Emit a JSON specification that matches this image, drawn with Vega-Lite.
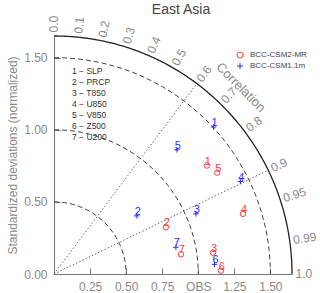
{
  "$schema": "https://vega.github.io/schema/vega-lite/v6.json",
  "width": 238,
  "height": 238,
  "autosize": "none",
  "padding": {"left": 54, "top": 36, "right": 28, "bottom": 19},
  "title": {"text": "East Asia", "fontSize": 14, "fontWeight": "normal", "color": "#444444", "font": "Liberation Sans", "offset": -1, "dx": 8},
  "config": {"view": {"stroke": null}, "font": "Liberation Sans"},
  "layer": [
    {
      "data": {"values": [
        {"kind": "outer", "r": 1.65}, {"kind": "std", "r": 0.5}, {"kind": "std", "r": 1.0}, {"kind": "std", "r": 1.5}
      ]},
      "mark": {"type": "point", "filled": false, "opacity": 1, "shape": "M0,-1A1,1,0,0,1,1,0"},
      "encoding": {
        "x": {"datum": 0, "type": "quantitative", "scale": {"domain": [0, 1.65], "nice": false, "zero": true},
          "axis": {"values": [0.25, 0.5, 0.75, 1, 1.25, 1.5], "labelExpr": "datum.value == 1 ? 'OBS' : format(datum.value, '.2f')", "title": null, "grid": false, "tickSize": -6, "labelPadding": 13, "labelFontSize": 12, "labelColor": "#8a8a8a", "domainColor": "#777777", "tickColor": "#777777", "labelFlush": false, "labelOverlap": false}},
        "y": {"datum": 0, "type": "quantitative", "scale": {"domain": [0, 1.65], "nice": false, "zero": true},
          "axis": {"values": [0, 0.25, 0.5, 0.75, 1, 1.25, 1.5], "format": ".2f", "title": "Standardized deviations (normalized)", "grid": false, "tickSize": -6, "labelPadding": 13, "labelFontSize": 12, "labelColor": "#8a8a8a", "domainColor": "#777777", "tickColor": "#777777", "labelFlush": false, "labelOverlap": false, "titleFontSize": 12, "titleFontWeight": "normal", "titleColor": "#8a8a8a", "titlePadding": 4}},
        "size": {"field": "r", "type": "quantitative", "legend": null, "scale": {"type": "pow", "exponent": 2, "domain": [0, 1.65], "range": [0, 226576], "zero": true}},
        "strokeDash": {"field": "kind", "type": "nominal", "legend": null, "scale": {"domain": ["outer", "std"], "range": [[1, 0], [5, 3]]}},
        "stroke": {"field": "kind", "type": "nominal", "legend": null, "scale": {"domain": ["outer", "std"], "range": ["#222222", "#444444"]}},
        "strokeWidth": {"field": "kind", "type": "nominal", "legend": null, "scale": {"domain": ["outer", "std"], "range": [1.3, 1]}}
      }
    },
    {
      "data": {"values": [{"corr": 0.6, "r": 1.65}]},
      "mark": {"type": "point", "filled": false, "opacity": 1, "shape": "M0,0L0.6,-0.8", "stroke": "#555555", "strokeWidth": 0.9, "strokeDash": [1.5, 2]},
      "encoding": {
        "x": {"datum": 0, "type": "quantitative"},
        "y": {"datum": 0, "type": "quantitative"},
        "size": {"field": "r", "type": "quantitative", "legend": null}
      }
    },
    {
      "data": {"values": [{"corr": 0.9, "r": 1.65}]},
      "mark": {"type": "point", "filled": false, "opacity": 1, "shape": "M0,0L0.9,-0.43589", "stroke": "#555555", "strokeWidth": 0.9, "strokeDash": [1.5, 2]},
      "encoding": {
        "x": {"datum": 0, "type": "quantitative"},
        "y": {"datum": 0, "type": "quantitative"},
        "size": {"field": "r", "type": "quantitative", "legend": null}
      }
    },
    {
      "data": {"values": [
        {"label": "0.0", "c": 0}, {"label": "0.1", "c": 0.1}, {"label": "0.2", "c": 0.2},
        {"label": "0.3", "c": 0.3}, {"label": "0.4", "c": 0.4}, {"label": "0.5", "c": 0.5},
        {"label": "0.6", "c": 0.6}, {"label": "0.7", "c": 0.7}, {"label": "0.8", "c": 0.8},
        {"label": "0.9", "c": 0.9}, {"label": "0.95", "c": 0.95}, {"label": "0.99", "c": 0.99},
        {"label": "1.0", "c": 1.0}
      ]},
      "mark": {"type": "text", "align": "left", "baseline": "middle", "fontSize": 12, "color": "#8a8a8a"},
      "encoding": {
        "x": {"datum": 0, "type": "quantitative"},
        "y": {"datum": 0, "type": "quantitative"},
        "theta": {"field": "c", "type": "quantitative", "stack": null, "scale": {"type": "linear", "domain": [0, 0.1, 0.2, 0.3, 0.4, 0.5, 0.6, 0.7, 0.8, 0.9, 0.95, 0.99, 1], "range": [0, 0.100167, 0.201358, 0.304693, 0.411517, 0.523599, 0.643501, 0.775397, 0.927295, 1.119770, 1.253236, 1.429257, 1.570796]}},
        "radius": {"datum": 1.675, "type": "quantitative", "scale": {"type": "linear", "domain": [0, 1.65], "range": [0, 238], "zero": true}},
        "angle": {"field": "c", "type": "quantitative", "legend": null, "scale": {"type": "linear", "domain": [0, 0.1, 0.2, 0.3, 0.4, 0.5, 0.6, 0.7, 0.8, 0.9, 0.95, 0.99, 1], "range": [-90, -84.261, -78.463, -72.542, -66.422, -60, -53.130, -45.573, -36.870, -25.842, -18.195, -8.110, 0]}},
        "text": {"field": "label"}
      }
    },
    {
      "data": {"values": [{"t": "Correlation", "c": 0.7071}]},
      "mark": {"type": "text", "align": "center", "baseline": "middle", "fontSize": 13, "color": "#8a8a8a", "angle": 45},
      "encoding": {
        "x": {"datum": 0, "type": "quantitative"},
        "y": {"datum": 0, "type": "quantitative"},
        "theta": {"field": "c", "type": "quantitative", "stack": null},
        "radius": {"datum": 1.83, "type": "quantitative"},
        "text": {"field": "t"}
      }
    },
    {
      "data": {"values": [{"t": "list"}]},
      "mark": {"type": "text", "align": "left", "baseline": "top", "fontSize": 8.5, "color": "#333333", "lineHeight": 11},
      "encoding": {
        "x": {"datum": 0.125, "type": "quantitative"},
        "y": {"datum": 1.435, "type": "quantitative"},
        "text": {"value": ["1  \u2212  SLP", "2  \u2212  PRCP", "3  \u2212  T850", "4  \u2212  U850", "5  \u2212  V850", "6  \u2212  Z500", "7  \u2212  U200"]}
      }
    },
    {
      "data": {"values": [
        {"model": "BCC-CSM2-MR", "num": "1", "x": 1.06, "y": 0.752},
        {"model": "BCC-CSM2-MR", "num": "2", "x": 0.775, "y": 0.324},
        {"model": "BCC-CSM2-MR", "num": "3", "x": 1.102, "y": 0.148},
        {"model": "BCC-CSM2-MR", "num": "4", "x": 1.31, "y": 0.417},
        {"model": "BCC-CSM2-MR", "num": "5", "x": 1.132, "y": 0.703},
        {"model": "BCC-CSM2-MR", "num": "6", "x": 1.157, "y": 0.023},
        {"model": "BCC-CSM2-MR", "num": "7", "x": 0.88, "y": 0.137},
        {"model": "BCC-CSM1.1m", "num": "1", "x": 1.106, "y": 1.019},
        {"model": "BCC-CSM1.1m", "num": "2", "x": 0.574, "y": 0.403},
        {"model": "BCC-CSM1.1m", "num": "3", "x": 0.984, "y": 0.417},
        {"model": "BCC-CSM1.1m", "num": "4", "x": 1.292, "y": 0.641},
        {"model": "BCC-CSM1.1m", "num": "5", "x": 0.852, "y": 0.861},
        {"model": "BCC-CSM1.1m", "num": "6", "x": 1.113, "y": 0.067},
        {"model": "BCC-CSM1.1m", "num": "7", "x": 0.845, "y": 0.185}
      ]},
      "encoding": {
        "x": {"field": "x", "type": "quantitative"},
        "y": {"field": "y", "type": "quantitative"},
        "color": {"field": "model", "type": "nominal", "scale": {"domain": ["BCC-CSM2-MR", "BCC-CSM1.1m"], "range": ["#ff3b3b", "#2a2aff"]},
          "legend": {"orient": "none", "legendX": 182, "legendY": 15, "title": null, "labelFontSize": 8, "labelColor": "#444444", "symbolStrokeWidth": 1, "symbolSize": 36, "rowPadding": 1, "labelOffset": 6, "padding": 0, "symbolFillColor": "transparent",
            "encode": {"symbols": {"enter": {"fillOpacity": {"value": 0}}, "update": {"fillOpacity": {"value": 0}, "strokeOpacity": {"value": 1}}}}}}
      },
      "layer": [
        {
          "mark": {"type": "point", "filled": false, "size": 30, "strokeWidth": 1, "opacity": 1},
          "encoding": {
            "shape": {"field": "model", "type": "nominal", "scale": {"domain": ["BCC-CSM2-MR", "BCC-CSM1.1m"], "range": ["circle", "M-1,0H1M0,-1V1"]},
              "legend": {"orient": "none", "legendX": 182, "legendY": 15, "title": null, "labelFontSize": 8, "labelColor": "#444444", "symbolStrokeWidth": 1, "symbolSize": 36, "rowPadding": 1, "labelOffset": 6, "padding": 0, "symbolFillColor": "transparent",
                "encode": {"symbols": {"enter": {"fillOpacity": {"value": 0}}, "update": {"fillOpacity": {"value": 0}, "strokeOpacity": {"value": 1}}}}}}
          }
        },
        {
          "mark": {"type": "text", "align": "center", "baseline": "alphabetic", "dx": 1, "dy": -1, "fontSize": 11},
          "encoding": {"text": {"field": "num"}}
        }
      ]
    }
  ]
}
